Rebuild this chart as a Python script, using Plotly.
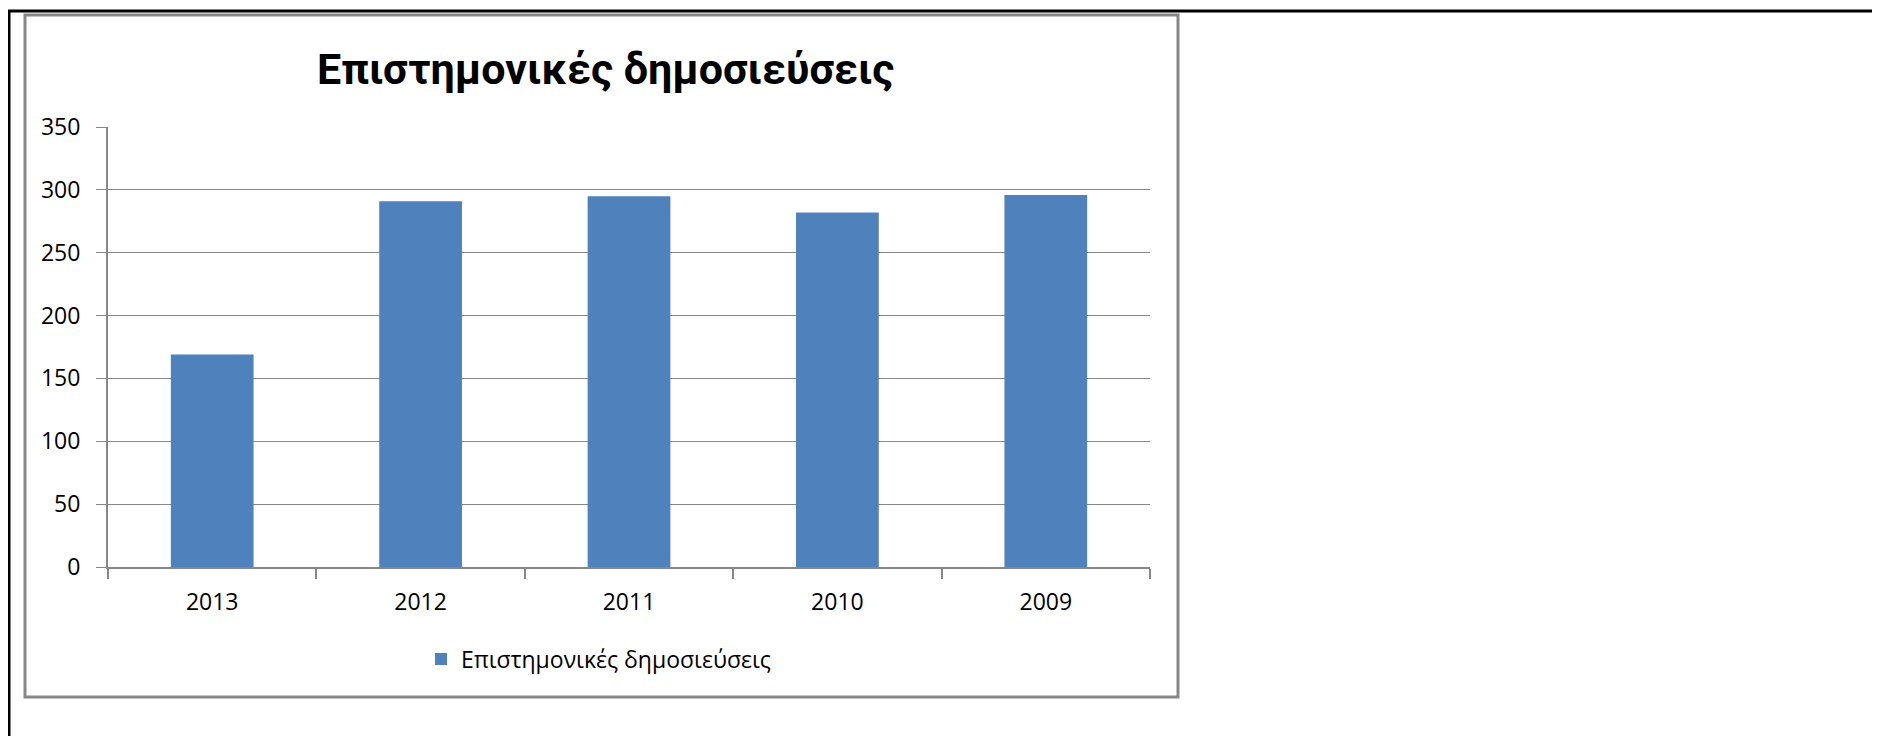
import plotly.graph_objects as go

# ---- data ----
years = ["2013", "2012", "2011", "2010", "2009"]
publications = [169, 291, 295, 282, 296]
series_name = "Επιστημονικές δημοσιεύσεις"
chart_title = "Επιστημονικές δημοσιεύσεις"
y_ticks = [0, 50, 100, 150, 200, 250, 300, 350]

# ---- layout geometry (screen pixels; page body has an 8px margin) ----
OFF = 8
W, H = 1880 - OFF, 736 - OFF
PLOT_L, PLOT_R, PLOT_T, PLOT_B = 108, 1150, 127, 567  # screen coords
ML = PLOT_L - OFF
MT = PLOT_T - OFF
MR = W - (PLOT_R - OFF)
MB = H - (PLOT_B - OFF)
PW = W - ML - MR
PH = H - MT - MB


def px(xs):
    return (xs - PLOT_L) / PW


def py(ys):
    return (PLOT_B - ys) / PH


GRAY = "#878787"
BAR = "#4F81BD"
TXT_FONT = "Open Sans, Liberation Sans, sans-serif"
FS = 23

fig = go.Figure()
fig.add_trace(go.Bar(
    x=years, y=publications, name=series_name,
    marker=dict(color=BAR, line=dict(width=0)),
    showlegend=True,
))

fig.update_layout(
    width=W, height=H,
    margin=dict(l=ML, r=MR, t=MT, b=MB, pad=0),
    paper_bgcolor="white", plot_bgcolor="white",
    bargap=0.603,
    showlegend=True,
    legend=dict(
        orientation="h", x=px(421), y=py(659), xanchor="left", yanchor="middle",
        font=dict(family=TXT_FONT, size=FS, color="#000000"),
        bgcolor="rgba(0,0,0,0)", borderwidth=0,
    ),
    xaxis=dict(
        type="category",
        showline=True, linecolor=GRAY, linewidth=2,
        ticks="outside", ticklen=10, tickcolor=GRAY, tickwidth=1.5,
        tickson="boundaries",
        showgrid=False,
        tickfont=dict(family=TXT_FONT, size=FS, color="#000000"),
        ticklabelstandoff=13,
    ),
    yaxis=dict(
        range=[0, 350], tickvals=y_ticks,
        showline=True, linecolor=GRAY, linewidth=2,
        ticks="outside", ticklen=10, tickcolor=GRAY, tickwidth=1,
        showgrid=True, gridcolor=GRAY, gridwidth=1,
        zeroline=False,
        tickfont=dict(family=TXT_FONT, size=FS, color="#000000"),
        ticklabelstandoff=11,
    ),
    annotations=[dict(
        text="<b>" + chart_title + "</b>",
        xref="paper", yref="paper", x=px(605), y=py(69),
        xanchor="center", yanchor="middle", showarrow=False,
        font=dict(family="Roboto, sans-serif", size=43, color="#000000"),
    )],
    shapes=[
        # chart area border
        dict(type="rect", xref="paper", yref="paper",
             x0=px(25), x1=px(1178), y0=py(697), y1=py(15),
             line=dict(color=GRAY, width=3), fillcolor="rgba(0,0,0,0)", layer="below"),
        # page border lines (top and left)
        dict(type="line", xref="paper", yref="paper",
             x0=px(8), x1=px(1880), y0=py(11), y1=py(11),
             line=dict(color="#000000", width=3)),
        dict(type="line", xref="paper", yref="paper",
             x0=px(9), x1=px(9), y0=py(10), y1=py(736),
             line=dict(color="#000000", width=3)),
    ],
)

fig.write_html("out.html")
